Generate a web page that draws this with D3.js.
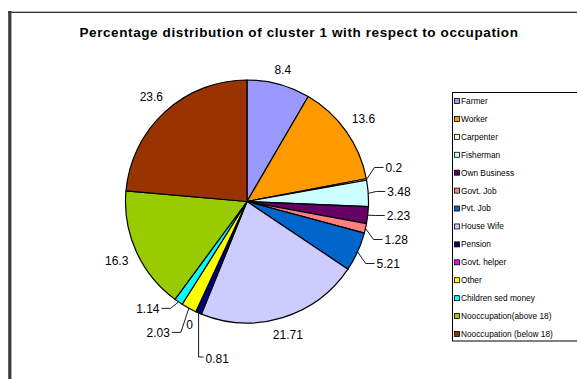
<!DOCTYPE html>
<html>
<head>
<meta charset="utf-8">
<script src="https://cdn.jsdelivr.net/npm/d3@7"></script>
<style>
  html, body { margin: 0; padding: 0; background: #fff; }
  svg { display: block; font-family: "Liberation Sans", Arial, Helvetica, sans-serif; }
</style>
</head>
<body>
<svg id="chart" width="577" height="379"></svg>
<script>
// Occupation categories of cluster 1 and their percentage shares
const categories = [
  "Farmer", "Worker", "Carpenter", "Fisherman", "Own Business", "Govt. Job",
  "Pvt. Job", "House Wife", "Pension", "Govt. helper", "Other",
  "Children sed money", "Nooccupation(above 18)", "Nooccupation (below 18)"
];
const shares = [8.4, 13.6, 0.2, 3.48, 2.23, 1.28, 5.21, 21.71, 0.81, 0, 2.03, 1.14, 16.3, 23.6];
const sliceColors = [
  "#9999FF", "#FF9900", "#FFFFCC", "#CCFFFF", "#660066", "#FF8080",
  "#0066CC", "#CCCCFF", "#000080", "#FF00FF", "#FFFF00",
  "#00FFFF", "#99CC00", "#993300"
];
const chartTitle = "Percentage distribution of cluster 1 with respect to occupation";

const svg = d3.select("#chart");
const W = 577, H = 379;

// chart area frame
svg.append("line").attr("x1", 8).attr("x2", W + 5).attr("y1", 11.5).attr("y2", 11.5)
  .attr("stroke", "#bbb").attr("stroke-width", 1);
svg.append("line").attr("x1", 8).attr("x2", W + 5).attr("y1", 12.5).attr("y2", 12.5)
  .attr("stroke", "#333").attr("stroke-width", 1.2);
svg.append("line").attr("x1", 9.8).attr("x2", 9.8).attr("y1", 11).attr("y2", H + 5)
  .attr("stroke", "#3a3a3a").attr("stroke-width", 3.2);

// title
svg.append("text")
  .attr("x", 299).attr("y", 36.7)
  .attr("text-anchor", "middle")
  .attr("font-size", 13.5).attr("font-weight", "bold")
  .attr("letter-spacing", 0.6).attr("fill", "#000")
  .text(chartTitle);

// pie
const cx = 247, cy = 201.5, R = 121.5;
const pie = d3.pie().sort(null).value(d => d.value);
const data = categories.map((c, i) => ({ name: c, value: shares[i], color: sliceColors[i] }));
const arcs = pie(data);
const arc = d3.arc().innerRadius(0).outerRadius(R);

const g = svg.append("g").attr("transform", `translate(${cx},${cy})`);
g.selectAll("path.slice").data(arcs).join("path")
  .attr("class", "slice")
  .attr("d", arc)
  .attr("fill", d => d.data.color)
  .attr("stroke", "#000")
  .attr("stroke-width", 1.2)
  .attr("stroke-linejoin", "round");

// data labels
const fontSize = 12;
const measure = svg.append("text").attr("font-size", fontSize).attr("visibility", "hidden");
function textWidth(s) { measure.text(s); return measure.node().getComputedTextLength(); }

const labels = arcs.map(a => {
  const mid = (a.startAngle + a.endAngle) / 2;
  const s = Math.sin(mid), c = -Math.cos(mid);
  const txt = String(a.data.value);
  const w = textWidth(txt);
  const lead = a.data.value > 0 && a.data.value < 6;
  // small slices close to the bottom get their label dropped below the pie
  const below = lead && Math.abs(mid - Math.PI) < 0.43;
  const p0 = { x: R * s, y: R * c };
  let lx, ly;
  if (!lead) {
    const d = 9 + Math.abs(s) * w / 2 + Math.abs(c) * 4.5;
    lx = (R + d) * s; ly = (R + d) * c;
  } else if (below) {
    lx = p0.x + 7; ly = R + 36;
  } else {
    lx = p0.x + (s >= 0 ? 19 : -19);
    ly = (R + 18) * c;
  }
  return { txt, w, lead, below, mid, side: s >= 0 ? 1 : -1, p0, x: lx, y: ly, natY: ly };
});
measure.remove();

// spread leadered labels vertically on each side so they do not overlap
function spread(items, gap) {
  items.sort((a, b) => a.natY - b.natY);
  let clusters = items.map(d => ({ items: [d] }));
  const mean = cl => d3.mean(cl.items, d => d.natY);
  const top = cl => mean(cl) - (cl.items.length - 1) * gap / 2;
  const bottom = cl => mean(cl) + (cl.items.length - 1) * gap / 2;
  let merged = true;
  while (merged) {
    merged = false;
    for (let i = 0; i < clusters.length - 1; i++) {
      if (top(clusters[i + 1]) - bottom(clusters[i]) < gap) {
        clusters[i].items = clusters[i].items.concat(clusters[i + 1].items);
        clusters.splice(i + 1, 1);
        merged = true;
        break;
      }
    }
  }
  clusters.forEach(cl => {
    const t = top(cl);
    cl.items.forEach((d, k) => { d.y = t + k * gap; });
  });
}
spread(labels.filter(d => d.lead && !d.below && d.side > 0), 24);
spread(labels.filter(d => d.lead && !d.below && d.side < 0), 24);

// leader lines
g.selectAll("path.leader").data(labels.filter(d => d.lead)).join("path")
  .attr("class", "leader")
  .attr("fill", "none")
  .attr("stroke", "#000")
  .attr("stroke-width", 0.9)
  .attr("d", d => {
    if (d.below) {
      const ly = d.y - 2;
      return `M${d.p0.x},${d.p0.y}L${d.p0.x},${ly}L${d.x - 2},${ly}`;
    }
    const ex = d.p0.x + d.side * 8;
    const endX = d.x - d.side * 2;
    return `M${d.p0.x},${d.p0.y}L${ex},${d.y}L${endX},${d.y}`;
  });

g.selectAll("text.val").data(labels).join("text")
  .attr("class", "val")
  .attr("x", d => d.x)
  .attr("y", d => d.y)
  .attr("dy", "0.36em")
  .attr("font-size", fontSize)
  .attr("fill", "#000")
  .attr("text-anchor", d => d.lead ? (d.below || d.side > 0 ? "start" : "end") : "middle")
  .text(d => d.txt);

// legend
const legX = 452.5, legY = 92.5, legBottom = 341;
const legend = svg.append("g");
legend.append("rect")
  .attr("x", legX).attr("y", legY)
  .attr("width", 200).attr("height", legBottom - legY)
  .attr("fill", "#fff").attr("stroke", "#000").attr("stroke-width", 1);
const rowY = d3.scalePoint().domain(categories).range([101, 334]);
const rows = legend.selectAll("g.row").data(data).join("g")
  .attr("class", "row")
  .attr("transform", d => `translate(0,${rowY(d.name)})`);
rows.append("rect")
  .attr("x", 454.5).attr("y", -2.5).attr("width", 5).attr("height", 5)
  .attr("fill", d => d.color).attr("stroke", "#000").attr("stroke-width", 0.8);
rows.append("text")
  .attr("x", 461).attr("y", 0).attr("dy", "0.35em")
  .attr("font-size", 8.3).attr("fill", "#000")
  .text(d => d.name);
</script>
</body>
</html>
